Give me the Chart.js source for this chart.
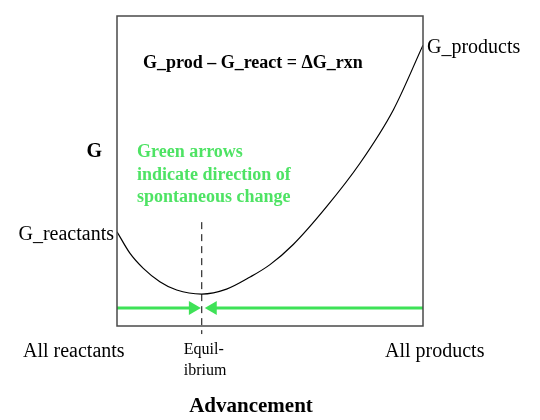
<!DOCTYPE html>
<html>
<head>
<meta charset="utf-8">
<script src="https://cdn.jsdelivr.net/npm/chart.js@4"></script>
<style>
  html, body { margin: 0; padding: 0; background: #fff; }
  #wrap { width: 540px; height: 420px; }
</style>
</head>
<body>
<div id="wrap"><canvas id="gChart" width="540" height="420"></canvas></div>
<script>
// free energy curve (advancement 0..1, G in arbitrary units)
const advancement = [0, 0.042, 0.086, 0.14, 0.195, 0.277, 0.358, 0.435, 0.5, 0.576, 0.685, 0.794, 0.903, 1];
const gValues = [30.4, 23.5, 18.6, 14.3, 11.6, 10.3, 11.9, 15.8, 19.8, 26.3, 38.5, 52.5, 69.7, 90.6];

const equilibriumX = 0.277;
const arrowY = 5.8;
const leftArrowX = [0, 0.248];
const rightArrowX = [1, 0.313];
const dashY = [33.5, -2.6];

const xLabels = ['All reactants', ['Equil-', 'ibrium'], 'All products'];
const axisTitle = 'Advancement';
const yTitle = 'G';
const endLabels = ['G_reactants', 'G_products'];
const equation = 'G_prod \u2013 G_react = \u0394G_rxn';
const note = ['Green arrows', 'indicate direction of', 'spontaneous change'];

const green = '#3ee257';
const greenText = '#4ee364';
const serif = '"Liberation Serif", "Times New Roman", serif';

const curve = advancement.map((x, i) => ({ x: x, y: gValues[i] }));

const textPlugin = {
  id: 'annotations',
  afterDraw(chart) {
    const ctx = chart.ctx;
    const a = chart.chartArea;
    const xs = chart.scales.x, ys = chart.scales.y;
    ctx.save();
    // frame
    ctx.strokeStyle = '#4a4a4a';
    ctx.lineWidth = 1.5;
    ctx.strokeRect(a.left, a.top, a.right - a.left, a.bottom - a.top);

    ctx.fillStyle = '#000';
    ctx.textBaseline = 'alphabetic';

    ctx.font = 'bold 18px ' + serif;
    ctx.textAlign = 'left';
    ctx.fillText(equation, 143, 68);

    ctx.font = 'bold 20px ' + serif;
    ctx.textAlign = 'right';
    ctx.fillText(yTitle, 102, 157);

    ctx.font = '20px ' + serif;
    ctx.textAlign = 'right';
    ctx.fillText(endLabels[0], a.left - 3, ys.getPixelForValue(gValues[0]) + 8);
    ctx.textAlign = 'left';
    ctx.fillText(endLabels[1], a.right + 4, ys.getPixelForValue(gValues[gValues.length - 1]) + 8);

    ctx.textAlign = 'left';
    ctx.fillText(xLabels[0], 23, 357);
    ctx.fillText(xLabels[2], 385, 357);
    ctx.font = '16px ' + serif;
    const ex = xs.getPixelForValue(equilibriumX) - 18;
    ctx.fillText(xLabels[1][0], ex, 354);
    ctx.fillText(xLabels[1][1], ex, 375);

    ctx.font = 'bold 21px ' + serif;
    ctx.textAlign = 'center';
    ctx.fillText(axisTitle, 251, 412);

    ctx.font = 'bold 18px ' + serif;
    ctx.textAlign = 'left';
    ctx.fillStyle = greenText;
    note.forEach((line, i) => ctx.fillText(line, 137, 157 + i * 22.5));
    ctx.restore();
  }
};

new Chart(document.getElementById('gChart'), {
  type: 'scatter',
  data: {
    datasets: [
      {
        data: curve,
        showLine: true,
        borderColor: '#000',
        borderWidth: 1.2,
        pointRadius: 0,
        cubicInterpolationMode: 'monotone'
      },
      {
        data: dashY.map(y => ({ x: equilibriumX, y: y })),
        showLine: true,
        borderColor: '#000',
        borderWidth: 1,
        borderDash: [7, 5],
        pointRadius: 0,
        clip: false
      },
      {
        data: leftArrowX.map(x => ({ x: x, y: arrowY })),
        showLine: true,
        borderColor: green,
        backgroundColor: green,
        borderWidth: 3,
        pointRadius: [0, 8],
        pointBorderWidth: 0,
        pointStyle: 'triangle',
        rotation: 90
      },
      {
        data: rightArrowX.map(x => ({ x: x, y: arrowY })),
        showLine: true,
        borderColor: green,
        backgroundColor: green,
        borderWidth: 3,
        pointRadius: [0, 8],
        pointBorderWidth: 0,
        pointStyle: 'triangle',
        rotation: -90
      }
    ]
  },
  options: {
    responsive: false,
    animation: false,
    layout: { padding: { left: 117, right: 117, top: 16, bottom: 94 } },
    scales: {
      x: { type: 'linear', min: 0, max: 1, display: false },
      y: { type: 'linear', min: 0, max: 100, display: false }
    },
    plugins: {
      legend: { display: false },
      tooltip: { enabled: false }
    }
  },
  plugins: [textPlugin]
});
</script>
</body>
</html>
